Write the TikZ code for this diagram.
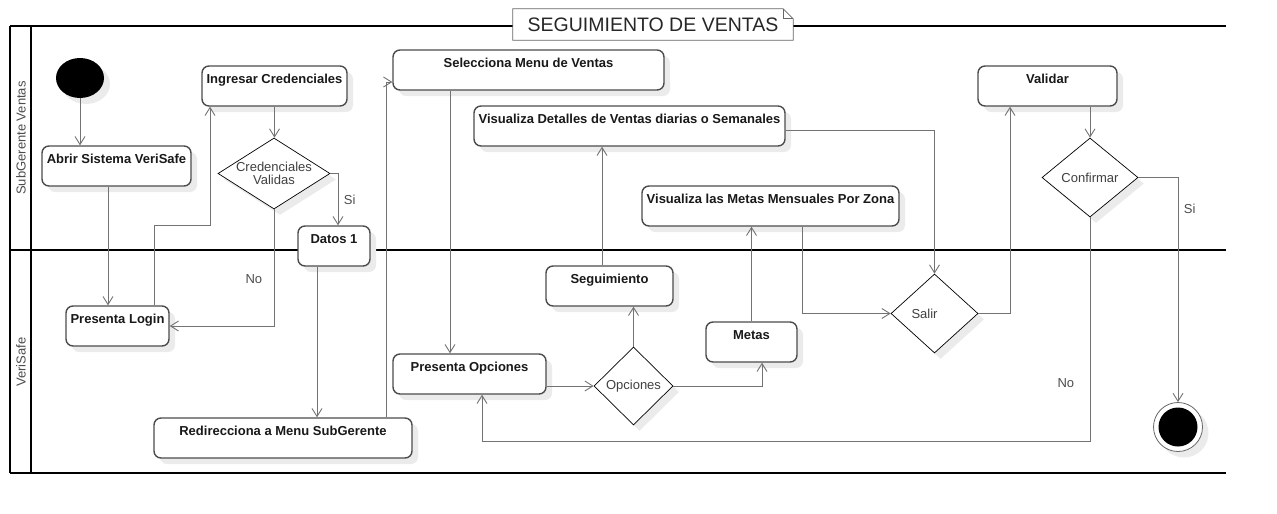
\documentclass[tikz,border=0pt]{standalone}
\usepackage{fontspec}
\setmainfont{Liberation Sans}
\usetikzlibrary{positioning, shapes.geometric, shadows, arrows.meta}

\begin{document}
\begin{tikzpicture}[x=1pt, y=-1pt,
	sombra/.style={drop shadow={shadow xshift=6pt, shadow yshift=-6pt, fill=black!8, opacity=1}},
	actividad/.style={draw=black!70, line width=1.4pt, rounded corners=7pt, fill=white, sombra,
		font=\fontsize{13}{15}\selectfont\bfseries, text=black!90,
		inner ysep=0pt, text height=17.5pt, text depth=22.5pt},
	decision/.style={draw=black, diamond, line width=0.7pt, fill=white, sombra, inner sep=0pt,
		font=\fontsize{13}{13}\selectfont, text=black!75, align=center},
	flujo/.style={draw=black!55, line width=1pt, -{Straight Barb[length=8pt, width=10pt, line width=0.9pt]}},
	carril/.style={line width=2pt},
	etiqueta/.style={font=\fontsize{13}{15}\selectfont, text=black!70}]

	\useasboundingbox (0,0) rectangle (1277,514);

	\draw[carril] (10,26) -- (1226,26);
	\draw[carril] (10,250) -- (1226,250);
	\draw[carril] (10,473) -- (1226,473);
	\draw[carril] (10,26) -- (10,473);
	\draw[carril] (31,26) -- (31,473);
	\node[etiqueta, rotate=90] (carril1) at (21,138) {SubGerente Ventas};
	\node[etiqueta, rotate=90] (carril2) at (21,362) {VeriSafe};

	\node[fill=white, font=\fontsize{19.5}{20}\selectfont, text=black!85, minimum width=280pt,
		minimum height=31pt, inner sep=0pt] (titulo) at (653,24.5) {SEGUIMIENTO DE VENTAS};
	\draw[black!60, line width=0.8pt] ([xshift=-10pt]titulo.north east) -- (titulo.north west)
		-- (titulo.south west) -- (titulo.south east) -- ([yshift=-10pt]titulo.north east) -- cycle;
	\draw[black!60, line width=0.8pt] ([xshift=-10pt]titulo.north east) |- ([yshift=-10pt]titulo.north east);

	\node[ellipse, fill=black, minimum width=48pt, minimum height=40pt, inner sep=0pt, sombra] (inicio) at (80,78) {};
	\node[actividad, minimum width=149pt] (abrir) at (116.5,166) {Abrir Sistema VeriSafe};
	\node[actividad, minimum width=145pt] (ingresar) at (274.5,86) {Ingresar Credenciales};
	\node[decision, minimum width=112pt, minimum height=71pt, aspect=1.58] (cred) at (274,173.5) {Credenciales\\Validas};
	\node[actividad, minimum width=72pt] (datos) at (334,246) {Datos 1};
	\node[actividad, minimum width=103pt] (login) at (117.5,326) {Presenta Login};
	\node[actividad, minimum width=258pt] (redir) at (283,438) {Redirecciona a Menu SubGerente};
	\node[actividad, minimum width=271pt] (selecc) at (528.5,70) {Selecciona Menu de Ventas};
	\node[actividad, minimum width=153pt] (opcpres) at (469.5,374) {Presenta Opciones};
	\node[decision, minimum width=79pt, minimum height=78pt] (opciones) at (633.5,386) {Opciones};
	\node[actividad, minimum width=127pt] (seguim) at (609.5,286) {Seguimiento};
	\node[actividad, minimum width=311pt] (detalles) at (629.5,126) {Visualiza Detalles de Ventas diarias o Semanales};
	\node[actividad, minimum width=91pt] (metas) at (751.5,342) {Metas};
	\node[actividad, minimum width=257pt] (vismetas) at (770.5,206) {Visualiza las Metas Mensuales Por Zona};
	\node[decision, minimum width=87pt, minimum height=79pt] (salir) at (934.5,313.5) {Salir\hspace*{20pt}};
	\node[actividad, minimum width=139pt] (validar) at (1047.5,86) {Validar};
	\node[decision, minimum width=96pt, minimum height=79pt, aspect=1.2] (confirmar) at (1090,177.5) {Confirmar};
	\node[circle, draw=black!60, line width=0.8pt, fill=white, minimum size=49pt, inner sep=0pt, sombra,
		path picture={\fill[black] (path picture bounding box.center) circle (19.5pt);}] (fin) at (1178,427) {};

	\draw[flujo] (inicio.south) -- (inicio.south |- abrir.north);
	\draw[flujo] ([xshift=-8.5pt]abrir.south) -- ([xshift=-8.5pt]abrir.south |- login.north);
	\draw[flujo] ([xshift=36.5pt]login.north) -- ++(0,-80) -| ([xshift=-64.5pt]ingresar.south);
	\draw[flujo] (ingresar.south) -- (ingresar.south |- cred.north);
	\draw[flujo] (cred.east) -| node[etiqueta, pos=0.75, right=2pt] {Si} ([xshift=4pt]datos.north);
	\draw[flujo] (cred.south) |- node[etiqueta, pos=0.3, left=8pt] {No} (login.east);
	\draw[flujo] ([xshift=-17pt]datos.south) -- ([xshift=-17pt]datos.south |- redir.north);
	\draw[flujo] ([xshift=103pt]redir.north) |- ([yshift=-12pt]selecc.west);
	\draw[flujo] ([xshift=-78.5pt]selecc.south) -- ([xshift=-78.5pt]selecc.south |- opcpres.north);
	\draw[flujo] (opcpres.east |- opciones.west) -- (opciones.west);
	\draw[flujo] (opciones.north) -- (opciones.north |- seguim.south);
	\draw[flujo] ([xshift=-7.5pt]seguim.north) -- ([xshift=-7.5pt]seguim.north |- detalles.south);
	\draw[flujo] ([yshift=-4pt]detalles.east) -| (salir.north);
	\draw[flujo] (opciones.east) -| ([xshift=10.5pt]metas.south);
	\draw[flujo] (metas.north) -- (metas.north |- vismetas.south);
	\draw[flujo] ([xshift=31.5pt]vismetas.south) |- (salir.west);
	\draw[flujo] (salir.east) -| ([xshift=-37.5pt]validar.south);
	\draw[flujo] (validar.south -| confirmar.north) -- (confirmar.north);
	\draw[flujo] (confirmar.east) -| node[etiqueta, pos=0.57, right=2pt] {Si} (fin.north);
	\draw[flujo] (confirmar.south) -- node[etiqueta, pos=0.74, left=12pt] {No} ++(0,224.5) -| ([xshift=12.5pt]opcpres.south);
\end{tikzpicture}
\end{document}
